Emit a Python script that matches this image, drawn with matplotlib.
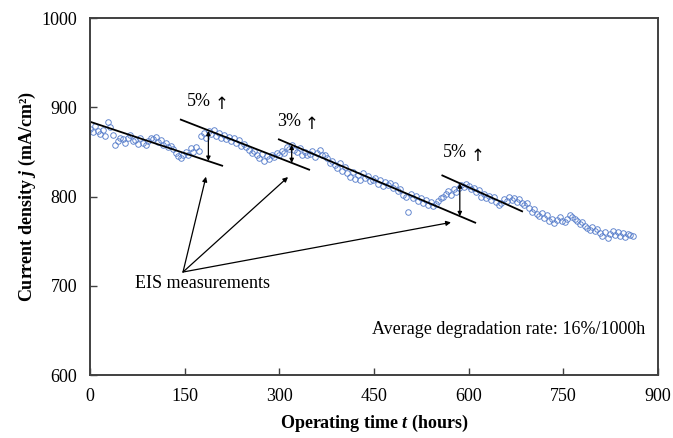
import numpy as np
import matplotlib
matplotlib.use("Agg")
import matplotlib.pyplot as plt

plt.rcParams["font.family"] = ["Liberation Serif", "DejaVu Serif"]
plt.rcParams["mathtext.fontset"] = "custom"
plt.rcParams["mathtext.rm"] = "Liberation Serif:bold"
plt.rcParams["mathtext.it"] = "Liberation Serif:bold:italic"
plt.rcParams["mathtext.bf"] = "Liberation Serif:bold"

# Operating time (h), logged every 4 hours
hours = np.arange(0, 861, 4)

# Current density (mA/cm2)
current_density = [
    876, 872, 879, 873, 870, 874, 868, 883, 878, 869,
    858, 862, 866, 864, 860, 866, 869, 862, 863, 859,
    865, 860, 858, 862, 866, 864, 867, 861, 863, 858,
    860, 855, 857, 853, 849, 845, 843, 847, 850, 846,
    854, 850, 856, 851, 868, 871, 866, 873, 870, 874,
    868, 871, 866, 869, 864, 867, 862, 865, 860, 863,
    857, 859, 855, 852, 849, 851, 846, 843, 848, 840,
    845, 842, 847, 844, 849, 846, 851, 849, 856, 853,
    858, 852, 850, 854, 847, 850, 846, 848, 851, 844,
    849, 852, 846, 847, 843, 838, 840, 835, 832, 837,
    829, 833, 826, 822, 828, 820, 824, 818, 826, 821,
    823, 817, 819, 821, 814, 818, 812, 816, 813, 815,
    810, 813, 806, 808, 802, 799, 783, 803, 798, 801,
    795, 798, 793, 796, 791, 794, 789, 792, 795, 798,
    800, 803, 806, 802, 808, 805, 810, 813, 811, 814,
    812, 808, 810, 805, 807, 800, 803, 798, 801, 796,
    799, 794, 790, 793, 797, 795, 799, 796, 798, 794,
    797, 793, 790, 793, 787, 783, 786, 780, 778, 782,
    776, 779, 773, 775, 770, 774, 777, 773, 771, 775,
    779, 777, 775, 772, 769, 771, 767, 765, 763, 766,
    761, 764, 759, 756, 760, 754, 758, 761, 757, 760,
    756, 759, 755, 758, 757, 756,
]

# Degradation trend segments: (t_start, j_start, t_end, j_end)
trend_lines = [
    (0, 883.8, 210.8, 834.2),
    (142.6, 886.5, 348.6, 829.7),
    (298.0, 864.4, 611.7, 770.3),
    (557.0, 824.0, 686.0, 783.0),
]

# Recovery after each EIS measurement: (t, j_low, j_high)
recoveries = [
    (187.6, 840.0, 873.5),
    (319.6, 837.6, 857.9),
    (586.0, 778.0, 814.7),
]
recovery_labels = ["5%", "3%", "5%"]
recovery_label_pos = [(154, 907), (296, 884.6), (559, 849)]

# EIS measurement pointer
eis_origin = (147.4, 715.4)
eis_targets = [(183.8, 822.2), (313.8, 821.8), (572.0, 771.0)]

fig = plt.figure(figsize=(6.73, 4.38), dpi=100)
ax = fig.add_axes([0.1337, 0.1438, 0.9777 - 0.1337, 0.9589 - 0.1438])

ax.plot(hours, current_density, linestyle="none", marker="o",
        markersize=4.0, markerfacecolor="none", markeredgecolor="#5b80cc",
        markeredgewidth=0.65)

for t0, j0, t1, j1 in trend_lines:
    ax.plot([t0, t1], [j0, j1], color="black", linewidth=1.3,
            solid_capstyle="butt")

for (t, lo, hi), lab, (lx, ly) in zip(recoveries, recovery_labels,
                                      recovery_label_pos):
    ax.annotate("", xy=(t, hi), xytext=(t, lo),
                arrowprops=dict(arrowstyle="<|-|>", color="black", lw=0.9,
                                mutation_scale=6, shrinkA=0, shrinkB=0))
    ax.text(lx, ly, lab, fontsize=13, ha="left", va="center")
    ax.annotate("\u2191", xy=(lx, ly), xytext=(25, -2),
                textcoords="offset points", fontsize=12,
                family="DejaVu Sans", ha="center", va="center")

for tx, ty in eis_targets:
    ax.annotate("", xy=(tx, ty), xytext=eis_origin,
                arrowprops=dict(arrowstyle="-|>", color="black", lw=0.9,
                                mutation_scale=7, shrinkA=0, shrinkB=0))

ax.text(71, 703, "EIS measurements", fontsize=13, ha="left", va="center")
ax.text(880, 651.5, "Average degradation rate: 16%/1000h", fontsize=13,
        ha="right", va="center")

ax.set_xlim(0, 900)
ax.set_ylim(600, 1000)
ax.set_xticks(np.arange(0, 901, 150))
ax.set_yticks(np.arange(600, 1001, 100))
ax.tick_params(direction="in", length=5, width=1.0, labelsize=13,
               color="#404040", pad=9)
for s in ax.spines.values():
    s.set_linewidth(1.4)
    s.set_color("#404040")

ax.set_xlabel("Operating time $t$ (hours)", fontsize=13, fontweight="bold",
              labelpad=6)
ax.set_ylabel("Current density $j$ (mA/cm\u00b2)", fontsize=13,
              fontweight="bold", labelpad=3)

fig.savefig("out.png", dpi=100)
